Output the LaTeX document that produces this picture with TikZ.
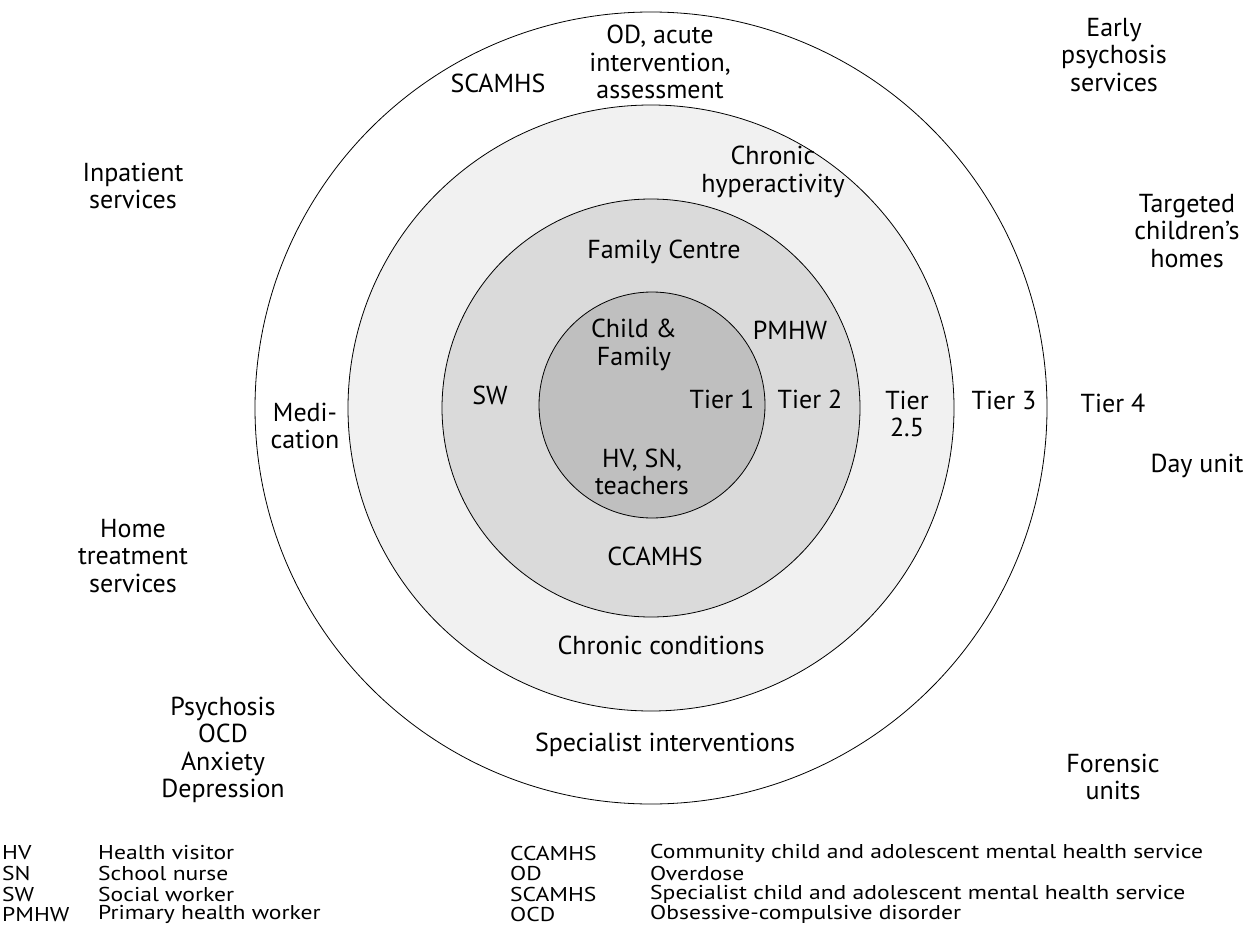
\documentclass[tikz,border=0pt]{standalone}
\usepackage{fontspec}
\setmainfont{PT Sans}
\newfontfamily\keyfont[FakeStretch=1.18]{PT Sans}
\definecolor{ringA}{gray}{0.945}
\definecolor{ringB}{gray}{0.855}
\definecolor{ringC}{gray}{0.75}
\begin{document}
\begin{tikzpicture}[x=1pt,y=-1pt,
  ring/.style={circle, draw=black, line width=0.8pt, inner sep=0pt},
  lbl/.style={align=center, inner sep=0pt, font=\fontsize{26}{27.5}\selectfont},
  abbr/.style={anchor=west, inner sep=0pt, font=\keyfont\fontsize{20}{20}\selectfont}]
\useasboundingbox (0,0) rectangle (1244,944);

% concentric tiers
\node[ring, minimum size=792pt, fill=white] (t3) at (651,408) {};
\node[ring, minimum size=606pt, fill=ringA] (t25) at (651,408) {};
\node[ring, minimum size=418pt, fill=ringB] (t2) at (651,408) {};
\node[ring, minimum size=226pt, fill=ringC] (t1) at (652,405) {};

% labels inside and around the rings
\node[lbl] (od) at (660,62) {OD, acute\\intervention,\\assessment};
\node[lbl] (scamhs) at (498,83) {SCAMHS};
\node[lbl] (early) at (1114,55) {Early\\psychosis\\services};
\node[lbl] (inpat) at (133,186) {Inpatient\\services};
\node[lbl] (chyper) at (773,172) {Chronic\\hyperactivity};
\node[lbl] (target) at (1187,231) {Targeted\\children’s\\homes};
\node[lbl] (family) at (664,252) {Family Centre};
\node[lbl] (child) at (634,345) {Child \&\\Family};
\node[lbl] (pmhw) at (790,330) {PMHW};
\node[lbl] (sw) at (490,395) {SW};
\node[lbl] (tier1) at (722,399) {Tier 1};
\node[lbl] (tier2) at (810,399) {Tier 2};
\node[lbl] (tier25) at (907,414) {Tier\\2.5};
\node[lbl] (tier3) at (1004,400) {Tier 3};
\node[lbl] (tier4) at (1113,403) {Tier 4};
\node[lbl] (medi) at (305,426) {Medi-\\cation};
\node[lbl] (hv) at (642,472) {HV, SN,\\teachers};
\node[lbl] (day) at (1197,466) {Day unit};
\node[lbl] (ccamhs) at (655,556) {CCAMHS};
\node[lbl] (home) at (133,556) {Home\\treatment\\services};
\node[lbl] (chcond) at (661,645) {Chronic conditions};
\node[lbl] (psych) at (223,750) {Psychosis\\OCD\\Anxiety\\Depression};
\node[lbl] (spec) at (665,745) {Specialist interventions};
\node[lbl] (foren) at (1113,777) {Forensic\\units};

% key to abbreviations
\node[abbr] (kHV) at (2,853) {HV};
\node[abbr] (dHV) at (98,853) {Health visitor};
\node[abbr] (kSN) at (2,873.5) {SN};
\node[abbr] (dSN) at (98,873.5) {School nurse};
\node[abbr] (kSW) at (2,894) {SW};
\node[abbr] (dSW) at (98,894) {Social worker};
\node[abbr] (kPM) at (2,914.5) {PMHW};
\node[abbr] (dPM) at (98,914.5) {Primary health worker};
\node[abbr] (kCC) at (510,853) {CCAMHS};
\node[abbr] (dCC) at (650,853) {Community child and adolescent mental health service};
\node[abbr] (kOD) at (510,873.5) {OD};
\node[abbr] (dOD) at (650,873.5) {Overdose};
\node[abbr] (kSC) at (510,894) {SCAMHS};
\node[abbr] (dSC) at (650,894) {Specialist child and adolescent mental health service};
\node[abbr] (kOC) at (510,914.5) {OCD};
\node[abbr] (dOC) at (650,914.5) {Obsessive-compulsive disorder};
\end{tikzpicture}
\end{document}
